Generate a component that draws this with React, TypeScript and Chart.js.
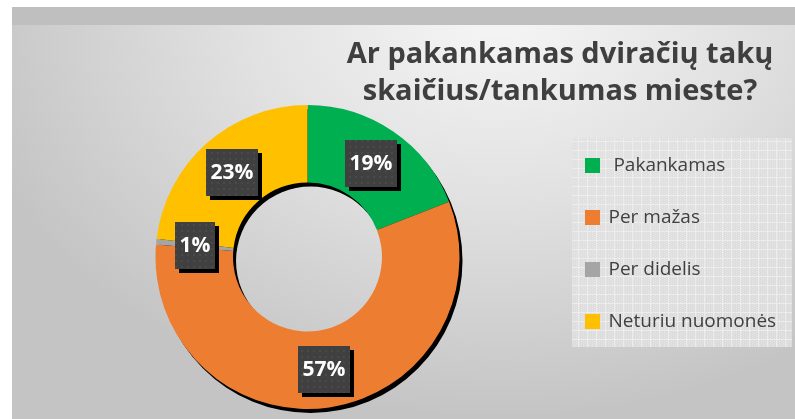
import React, { useEffect, useRef } from "react";
import { Chart, registerables } from "chart.js";

Chart.register(...registerables);

const titleLines = ["Ar pakankamas dviračių takų", "skaičius/tankumas mieste?"];
const categories = [" Pakankamas", "Per mažas", "Per didelis", "Neturiu nuomonės"];
const values = [19, 57, 0.6, 23];
const colors = ["#00B050", "#ED7D31", "#A5A5A5", "#FFC000"];

const FONT = '"Open Sans", "DejaVu Sans", sans-serif';

function makeDotPattern(ctx: CanvasRenderingContext2D) {
  const c = document.createElement("canvas");
  c.width = 6;
  c.height = 6;
  const p = c.getContext("2d")!;
  p.fillStyle = "#404040";
  p.fillRect(0, 0, 6, 6);
  p.fillStyle = "#4a4a4a";
  p.fillRect(1, 1, 2, 2);
  return ctx.createPattern(c, "repeat");
}

function makeGridPattern(ctx: CanvasRenderingContext2D) {
  const c = document.createElement("canvas");
  c.width = 9;
  c.height = 9;
  const p = c.getContext("2d")!;
  p.fillStyle = "rgba(224,224,224,0.8)";
  p.fillRect(0, 0, 9, 9);
  p.fillStyle = "rgba(232,232,232,0.8)";
  for (let i = 0; i < 9; i += 2) {
    for (let j = i % 4 === 0 ? 0 : 1; j < 9; j += 2) p.fillRect(i, j, 1, 1);
  }
  p.fillStyle = "rgba(238,238,238,0.85)";
  p.fillRect(0, 8, 9, 1);
  p.fillRect(8, 0, 1, 9);
  return ctx.createPattern(c, "repeat");
}

const ringShadow = {
  id: "ringShadow",
  beforeDatasetsDraw(chart: any) {
    const meta = chart.getDatasetMeta(0);
    const arc = meta.data[0];
    if (!arc) return;
    const { x, y, outerRadius, innerRadius } = arc.getProps(
      ["x", "y", "outerRadius", "innerRadius"],
      true
    );
    const ctx = chart.ctx;
    ctx.save();
    ctx.fillStyle = "#000";
    ctx.beginPath();
    ctx.arc(x + 3, y + 4, outerRadius, 0, Math.PI * 2);
    ctx.arc(x + 3, y + 4, innerRadius, 0, Math.PI * 2, true);
    ctx.fill("evenodd");
    ctx.restore();
  },
};

const legendPanel = {
  id: "legendPanel",
  beforeDraw(chart: any) {
    const lg = chart.legend;
    if (!lg) return;
    const ctx = chart.ctx;
    ctx.save();
    const pat = makeGridPattern(ctx);
    ctx.fillStyle = pat || "#e2e2e2";
    ctx.fillRect(lg.left + 19, lg.top + 33, 220, 209);
    ctx.restore();
  },
};

const titlePlugin = {
  id: "titleText",
  afterDraw(chart: any) {
    const ctx = chart.ctx;
    ctx.save();
    ctx.fillStyle = "#3f3f3f";
    ctx.font = `bold 29px ${FONT}`;
    ctx.textAlign = "center";
    ctx.textBaseline = "alphabetic";
    ctx.fillText(titleLines[0], 548, 56);
    ctx.fillText(titleLines[1], 548, 93);
    ctx.restore();
  },
};

const valueLabels = {
  id: "valueLabels",
  afterDatasetsDraw(chart: any) {
    const ctx = chart.ctx;
    const meta = chart.getDatasetMeta(0);
    const total = values.reduce((a, b) => a + b, 0);
    const pat = makeDotPattern(ctx);
    ctx.save();
    ctx.font = `bold 21px ${FONT}`;
    meta.data.forEach((el: any, i: number) => {
      const p = el.tooltipPosition(true);
      const txt = Math.round((values[i] / total) * 100) + "%";
      const tw = ctx.measureText(txt).width;
      const w = Math.round(tw + 9);
      const h = 47;
      const bx = Math.round(p.x - w / 2);
      const by = Math.round(p.y - h / 2);
      ctx.fillStyle = "#000";
      ctx.fillRect(bx + 4, by + 4, w, h);
      ctx.fillStyle = pat || "#404040";
      ctx.fillRect(bx, by, w, h);
      ctx.fillStyle = "#ffffff";
      ctx.textAlign = "center";
      ctx.textBaseline = "middle";
      ctx.fillText(txt, bx + w / 2, by + h / 2 + 1);
    });
    ctx.restore();
  },
};

export default function App() {
  const ref = useRef<HTMLCanvasElement | null>(null);

  useEffect(() => {
    if (!ref.current) return;
    const baseGen = (Chart as any).overrides.doughnut.plugins.legend.labels.generateLabels;
    const chart = new Chart(ref.current, {
      type: "doughnut",
      data: {
        labels: categories,
        datasets: [
          {
            data: values,
            backgroundColor: colors,
            borderWidth: 0,
          },
        ],
      },
      plugins: [legendPanel, ringShadow, valueLabels, titlePlugin],
      options: {
        responsive: false,
        animation: false,
        cutout: "49%",
        layout: { padding: { top: 98, bottom: 10, left: 50, right: 17 } },
        plugins: {
          title: { display: false },
          tooltip: { enabled: false },
          legend: {
            display: true,
            position: "right",
            align: "start",
            maxWidth: 225,
            title: {
              display: true,
              text: " ",
              font: { size: 15, lineHeight: 1.2 },
              padding: 0,
            },
            labels: {
              boxWidth: 13,
              boxHeight: 13,
              padding: 33,
              color: "#404040",
              font: { family: FONT, size: 19 },
              generateLabels: (c: any) =>
                baseGen(c).map((it: any) => ({
                  ...it,
                  strokeStyle: it.fillStyle,
                  lineWidth: 2,
                })),
            },
          },
        },
      },
    });
    return () => chart.destroy();
  }, []);

  return (
    <div
      style={{
        position: "absolute",
        left: 12,
        top: 7,
        width: 783,
        height: 412,
        background:
          "radial-gradient(ellipse 70% 100% at 62% 0%, #f6f6f6 0%, #e2e2e2 45%, #c4c4c4 100%)",
        overflow: "hidden",
      }}
    >
      <div
        style={{
          position: "absolute",
          left: 0,
          top: 0,
          width: 783,
          height: 18,
          background: "#bfbfbf",
        }}
      />
      <canvas
        ref={ref}
        width={783}
        height={412}
        style={{ position: "absolute", left: 0, top: 0, width: 783, height: 412 }}
      />
    </div>
  );
}
